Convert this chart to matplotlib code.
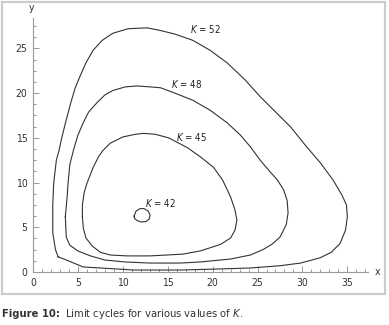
import matplotlib
matplotlib.use("Agg")
import matplotlib.pyplot as plt
from matplotlib.patches import Rectangle

plt.rcParams['font.family'] = ['DejaVu Sans']
plt.rcParams['font.stretch'] = 'condensed'
plt.rcParams['mathtext.fontset'] = 'custom'
plt.rcParams['mathtext.rm'] = 'DejaVu Sans'
plt.rcParams['mathtext.it'] = 'DejaVu Sans:italic'

# cykle graniczne
k52_x = [2.8, 2.5, 2.2, 2.2, 2.3, 2.6, 2.9, 3.2, 3.7, 4.2, 4.7, 5.2, 5.9, 6.7, 7.7, 8.9, 10.6,
         12.7, 14.2, 15.8, 17.8, 19.7, 21.6, 23.6, 25.3, 27.0, 28.7, 30.3, 32.0, 33.4,
         34.4, 34.9, 35.0, 34.8, 34.2, 33.2, 32.0, 29.8, 27.5, 24.2, 20.8, 16.4, 11.2,
         7.5, 5.6, 3.8, 2.8]
k52_y = [1.7, 2.5, 4.4, 7.5, 9.9, 12.5, 13.6, 15.0, 17.0, 18.9, 20.6, 21.8, 23.4, 24.8, 25.9,
         26.7, 27.2, 27.3, 27.0, 26.6, 25.9, 24.8, 23.4, 21.5, 19.6, 17.9, 16.2, 14.2,
         12.2, 10.3, 8.6, 7.5, 6.2, 4.7, 3.2, 2.2, 1.6, 1.0, 0.7, 0.45, 0.34, 0.22, 0.22,
         0.45, 0.56, 1.3, 1.7]

k48_x = [3.6, 3.8, 3.9, 4.1, 4.5, 5.0, 5.6, 6.2, 7.1, 8.0, 8.9, 10.3, 11.6, 13.0, 14.2,
         15.8, 17.8, 19.7, 21.6, 23.1, 24.2, 25.3, 26.4, 27.2, 27.9, 28.3, 28.4, 28.2,
         27.5, 26.6, 25.6, 24.2, 22.0, 18.6, 16.4, 13.0, 10.3, 8.0, 6.4, 5.0, 4.1, 3.7,
         3.6]
k48_y = [6.2, 8.4, 9.9, 12.0, 13.6, 15.3, 16.7, 17.9, 18.9, 19.8, 20.3, 20.7, 20.8, 20.7,
         20.6, 20.0, 19.2, 18.1, 16.7, 15.3, 14.0, 12.5, 11.2, 10.3, 9.2, 8.0, 6.6, 5.3,
         3.9, 3.1, 2.5, 1.9, 1.45, 1.12, 1.0, 1.0, 1.12, 1.34, 1.8, 2.35, 3.0, 3.9, 6.2]

k45_x = [5.5, 5.5, 5.7, 6.0, 6.7, 7.3, 7.8, 8.6, 10.0, 11.4, 12.3, 13.6, 15.1, 17.2,
         18.6, 20.1, 21.1, 22.0, 22.5, 22.7, 22.5, 22.0, 20.9, 19.7, 18.6, 16.7, 14.9,
         13.0, 10.5, 8.6, 7.5, 6.6, 5.9, 5.6, 5.5]
k45_y = [6.2, 7.5, 8.9, 9.9, 11.7, 12.9, 13.6, 14.4, 15.1, 15.4, 15.5, 15.4, 15.0, 13.9,
         12.9, 11.7, 10.3, 8.4, 6.9, 5.8, 4.7, 3.8, 3.1, 2.7, 2.35, 2.0, 1.9, 1.8, 1.8,
         1.9, 2.2, 2.9, 3.8, 4.9, 6.2]

k42_x = [11.26, 11.48, 11.93, 12.37, 12.82, 13.04, 12.93, 12.6, 12.04, 11.59, 11.31, 11.26]
k42_y = [6.26, 6.82, 7.09, 7.09, 6.82, 6.37, 5.92, 5.64, 5.59, 5.75, 5.98, 6.26]

labels = ['$K$ = 52', '$K$ = 48', '$K$ = 45', '$K$ = 42']
label_x = [19.2, 17.1, 17.7, 14.2]
label_y = [27.2, 21.0, 15.1, 7.7]

W, H = 389, 325
fig = plt.figure(figsize=(W / 100, H / 100), dpi=100)
ax = fig.add_axes([33 / W, (H - 272) / H, (368 - 33) / W, (272 - 18) / H])

line_col = '#333333'
for xs, ys in [(k52_x, k52_y), (k48_x, k48_y), (k45_x, k45_y), (k42_x, k42_y)]:
    ax.plot(xs, ys, color=line_col, lw=0.8)

for t, lx, ly in zip(labels, label_x, label_y):
    ax.text(lx, ly, t, fontsize=7, color='#222222', ha='center', va='center')

ax.set_xlim(0, 37.3)
ax.set_ylim(0, 28.4)
ax.set_xticks(range(0, 36, 5))
ax.set_xticks(range(0, 38), minor=True)
ax.set_yticks(range(0, 26, 5))
ax.set_yticks([i * 1.25 for i in range(0, 23)], minor=True)

for s in ['top', 'right']:
    ax.spines[s].set_visible(False)
for s in ['left', 'bottom']:
    ax.spines[s].set_color('#999999')
    ax.spines[s].set_linewidth(0.8)

ax.tick_params(which='both', direction='in', color='#999999', width=0.7,
               labelsize=7.5, labelcolor='#333333')
ax.tick_params(which='major', length=4.5, pad=4)
ax.tick_params(which='minor', length=2.5)

fig.text(377 / W, 1 - 272 / H, 'x', fontsize=7.5, color='#333333', ha='center', va='center')
fig.text(31 / W, 1 - 8 / H, 'y', fontsize=7.5, color='#333333', ha='center', va='center')

# ramka wokół wykresu
fig.patches.append(Rectangle((1.5 / W, 1 - 294 / H), 383 / W, 292 / H, transform=fig.transFigure,
                             fill=False, edgecolor='#cccccc', lw=1.6))

fig.text(2 / W, 1 - 314 / H, 'Figure 10:', fontsize=8, fontweight='bold',
         color='#333333', ha='left', va='center')
fig.text(65 / W, 1 - 314 / H, 'Limit cycles for various values of $K$.', fontsize=8,
         color='#333333', ha='left', va='center')

fig.savefig('out.png', dpi=100)
